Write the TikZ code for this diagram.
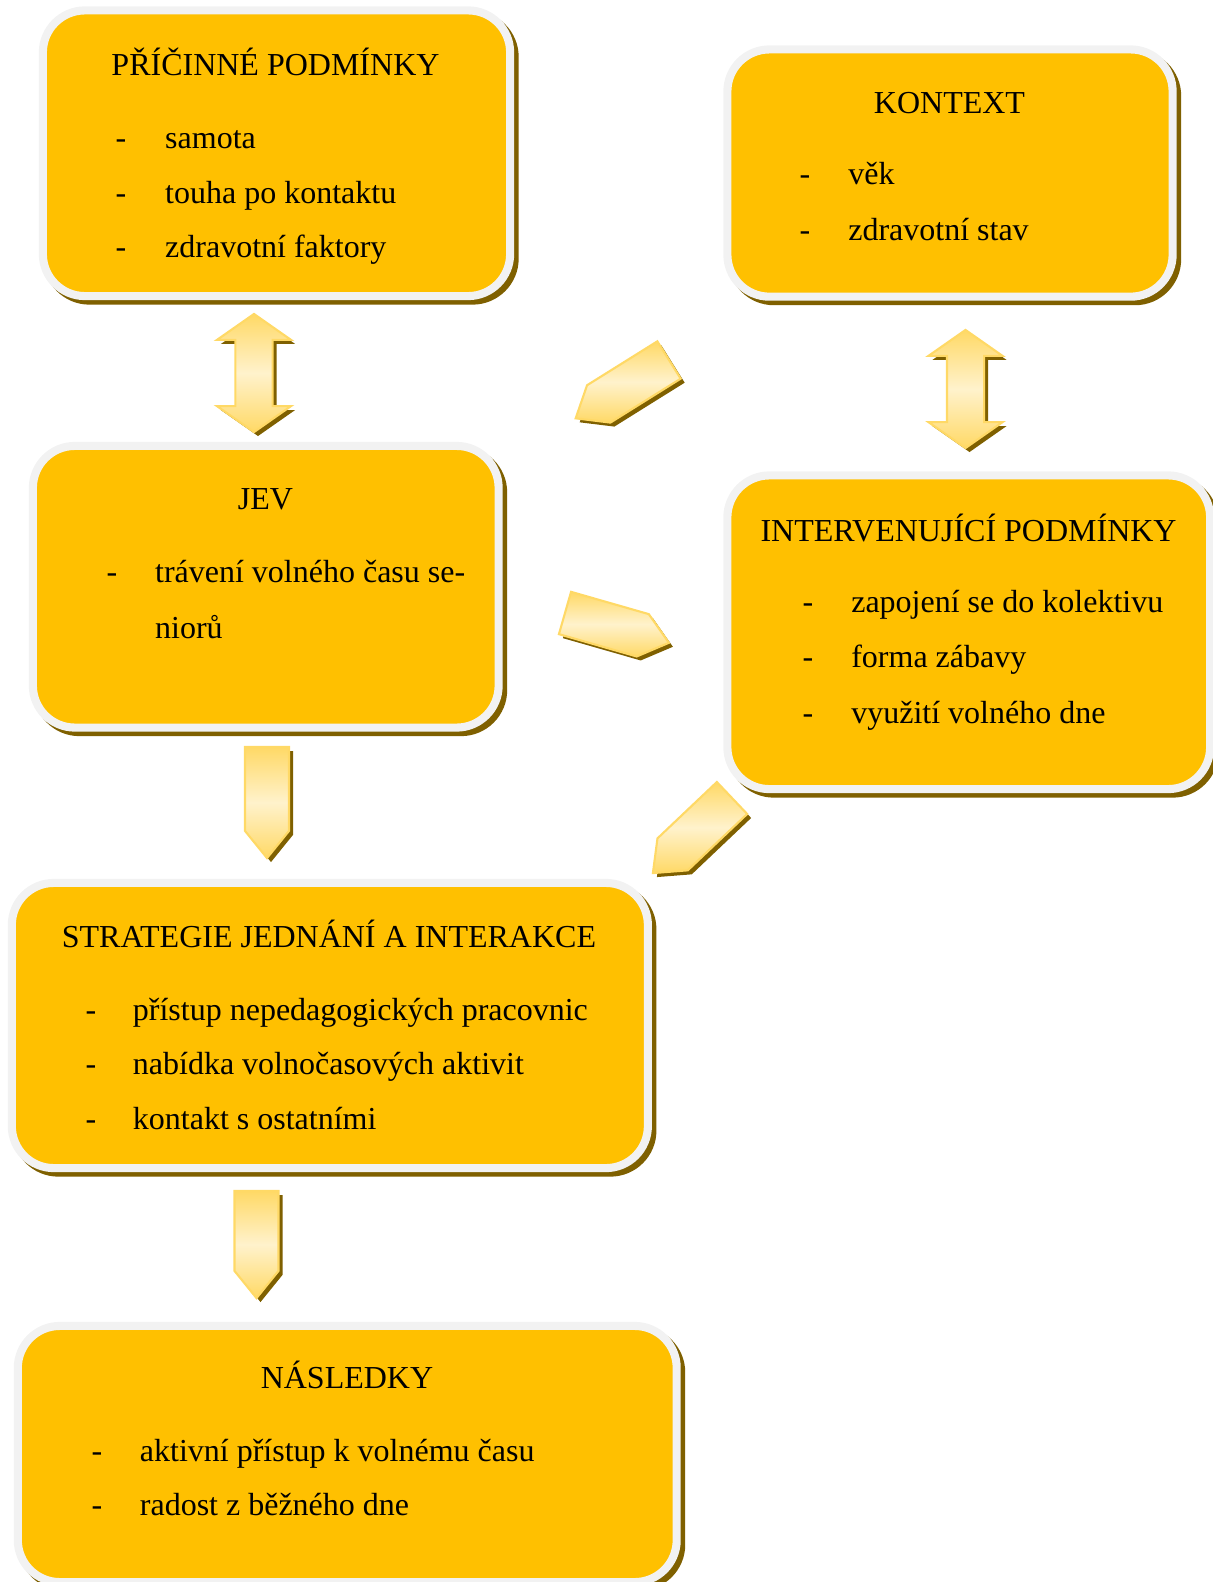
\documentclass[tikz,border=0pt]{standalone}
\usepackage{fontspec}
\setmainfont{Liberation Serif}
\usetikzlibrary{shapes.arrows,shadows}

\definecolor{boxyellow}{HTML}{FFC000}
\definecolor{boxrim}{HTML}{F2F2F2}
\definecolor{shadebrown}{HTML}{7F6000}
\definecolor{arrowgold}{HTML}{FFD966}
\definecolor{arrowcream}{HTML}{FFF2CC}

\tikzset{
  box/.style={draw=boxrim, line width=2.3pt, fill=boxyellow, rounded corners=0.42cm,
    inner sep=0pt, outer sep=0pt,
    drop shadow={shadow xshift=0.045cm, shadow yshift=-0.045cm, fill=shadebrown, draw=shadebrown, opacity=1}},
  ttl/.style={anchor=mid, inner sep=0pt, font=\fontsize{9.1pt}{11pt}\selectfont},
  itm/.style={anchor=mid west, inner sep=0pt, yshift=-0.03cm, font=\fontsize{9.1pt}{11pt}\selectfont},
  blk/.style={draw=arrowgold, line width=0.6pt, inner sep=0pt, outer sep=0pt,
    top color=arrowgold, bottom color=arrowgold, middle color=arrowcream,
    drop shadow={shadow xshift=0.04cm, shadow yshift=-0.04cm, fill=shadebrown, opacity=1}},
  sarrow/.style={blk, single arrow, single arrow head extend=0pt, single arrow tip angle=78,
    minimum width=0.44cm, anchor=tail},
  darrow/.style={blk, double arrow, inner xsep=0pt, inner ysep=0.175cm,
    double arrow head extend=0.185cm, double arrow tip angle=110,
    minimum height=1.18cm, rotate=90}
}

\begin{document}
\begin{tikzpicture}[x=0.01cm, y=-0.01cm]
    \useasboundingbox (0,0) rectangle (1213,1582);

    % boxes
    \node[box, minimum width=4.67cm, minimum height=2.855cm] (PP) at (276.5,153.25) {};
    \node[box, minimum width=4.45cm, minimum height=2.471cm] (KO) at (950,173.05) {};
    \node[box, minimum width=4.655cm, minimum height=2.815cm] (JE) at (265.75,586.75) {};
    \node[box, minimum width=4.825cm, minimum height=3.135cm] (IP) at (968.75,632.25) {};
    \node[box, minimum width=6.357cm, minimum height=2.85cm] (SJ) at (329.85,1025.5) {};
    \node[box, minimum width=6.585cm, minimum height=2.56cm] (NA) at (347.25,1454) {};

    % block arrows
    \node[darrow] (AR1) at (254,373) {};
    \node[darrow] (AR2) at (965.5,389) {};
    \node[sarrow, minimum height=1.10cm, rotate=212] (AR3) at (669,360) {};
    \node[sarrow, minimum height=1.08cm, rotate=-16] (AR4) at (565,613) {};
    \node[sarrow, minimum height=1.09cm, rotate=223.5] (AR5) at (732,798) {};
    \node[sarrow, minimum height=1.11cm, rotate=-90] (AR6) at (267,747) {};
    \node[sarrow, minimum height=1.07cm, rotate=-90] (AR7) at (256.5,1191) {};

    % PRICINNE PODMINKY
    \node[ttl] (PPt) at (275.5,67) {PŘÍČINNÉ PODMÍNKY};
    \node[itm] (PPd1) at (115,137) {-};
    \node[itm] (PP1) at (164.5,137) {samota};
    \node[itm] (PPd2) at (115,192) {-};
    \node[itm] (PP2) at (164.5,192) {touha po kontaktu};
    \node[itm] (PPd3) at (115,246) {-};
    \node[itm] (PP3) at (164.5,246) {zdravotní faktory};

    % KONTEXT
    \node[ttl] (KOt) at (949.5,105) {KONTEXT};
    \node[itm] (KOd1) at (799,173.5) {-};
    \node[itm] (KO1) at (847.6,173.5) {věk};
    \node[itm] (KOd2) at (799,229) {-};
    \node[itm] (KO2) at (847.6,229) {zdravotní stav};

    % JEV
    \node[ttl] (JEt) at (265.4,501.5) {JEV};
    \node[itm] (JEd1) at (106,571) {-};
    \node[itm] (JE1) at (154.4,571) {trávení volného času se-};
    \node[itm] (JE2) at (154.4,627.6) {niorů};

    % INTERVENUJICI PODMINKY
    \node[ttl] (IPt) at (968.6,533) {INTERVENUJÍCÍ PODMÍNKY};
    \node[itm] (IPd1) at (802,601.4) {-};
    \node[itm] (IP1) at (850.6,601.4) {zapojení se do kolektivu};
    \node[itm] (IPd2) at (802,656.9) {-};
    \node[itm] (IP2) at (850.6,656.9) {forma zábavy};
    \node[itm] (IPd3) at (802,712.4) {-};
    \node[itm] (IP3) at (850.6,712.4) {využití volného dne};

    % STRATEGIE JEDNANI A INTERAKCE
    \node[ttl] (SJt) at (329,939.5) {STRATEGIE JEDNÁNÍ A INTERAKCE};
    \node[itm] (SJd1) at (85,1009) {-};
    \node[itm] (SJ1) at (132.2,1009) {přístup nepedagogických pracovnic};
    \node[itm] (SJd2) at (85,1063.5) {-};
    \node[itm] (SJ2) at (132.2,1063.5) {nabídka volnočasových aktivit};
    \node[itm] (SJd3) at (85,1118) {-};
    \node[itm] (SJ3) at (132.2,1118) {kontakt s ostatními};

    % NASLEDKY
    \node[ttl] (NAt) at (347,1380.5) {NÁSLEDKY};
    \node[itm] (NAd1) at (91,1450) {-};
    \node[itm] (NA1) at (139.2,1450) {aktivní přístup k volnému času};
    \node[itm] (NAd2) at (91,1504.4) {-};
    \node[itm] (NA2) at (139.2,1504.4) {radost z běžného dne};
\end{tikzpicture}
\end{document}
